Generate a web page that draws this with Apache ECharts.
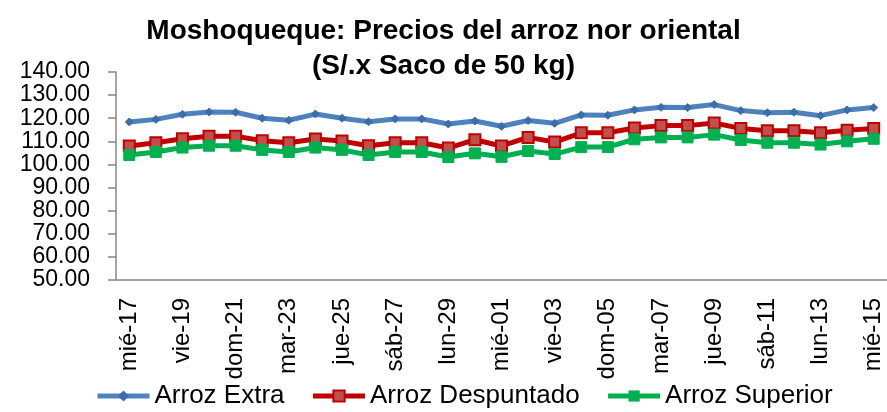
<!DOCTYPE html>
<html>
<head>
<meta charset="utf-8">
<script src="https://cdn.jsdelivr.net/npm/echarts@6/dist/echarts.min.js"></script>
<style>
html,body{margin:0;padding:0;background:#fff;}
#c{width:887px;height:412px;}
</style>
</head>
<body>
<div id="c"></div>
<script>
const categories = ['mié-17','jue-18','vie-19','sáb-20','dom-21','lun-22','mar-23','mié-24','jue-25','vie-26','sáb-27','dom-28','lun-29','mar-30','mié-01','jue-02','vie-03','sáb-04','dom-05','lun-06','mar-07','mié-08','jue-09','vie-10','sáb-11','dom-12','lun-13','mar-14','mié-15'];
const arrozExtra = [118.4,119.5,121.7,122.7,122.6,120.0,119.1,121.8,120.0,118.5,119.7,119.7,117.5,118.8,116.5,119.0,117.8,121.4,121.3,123.6,124.7,124.6,125.9,123.3,122.4,122.6,121.1,123.6,124.6];
const arrozDespuntado = [108.0,109.4,111.1,112.2,112.2,110.3,109.4,111.0,110.1,108.1,109.4,109.4,107.1,110.7,108.0,111.7,109.7,113.7,113.7,115.8,116.8,116.8,117.9,115.6,114.6,114.6,113.7,114.8,115.6];
const arrozSuperior = [104.1,105.4,107.3,108.1,108.1,106.3,105.4,107.3,106.3,104.1,105.4,105.4,103.2,104.8,103.3,105.8,104.5,107.5,107.5,110.9,111.7,111.7,112.9,110.6,109.4,109.4,108.6,110.0,111.1];
const seriesNames = ['Arroz Extra','Arroz Despuntado','Arroz Superior'];

const FONT = 'Liberation Sans';
const chart = echarts.init(document.getElementById('c'));
chart.setOption({
  animation: false,
  backgroundColor: '#fff',
  title: {
    text: 'Moshoqueque: Precios del arroz nor oriental\n(S/.x Saco de 50 kg)',
    left: 'center', top: 9,
    textStyle: {fontFamily: FONT, fontWeight: 'bold', fontSize: 28, lineHeight: 35, color: '#000'}
  },
  legend: {
    left: 95, top: 383, padding: 0,
    itemWidth: 52, itemHeight: 14, itemGap: 26,
    textStyle: {fontFamily: FONT, fontSize: 26, color: '#000'},
    data: [
      {name: seriesNames[0], lineStyle: {width: 5, color: '#4F81BD'}},
      {name: seriesNames[1], lineStyle: {width: 5, color: '#C00000'}},
      {name: seriesNames[2], lineStyle: {width: 5, color: '#00B050'}}
    ]
  },
  grid: {left: 116, right: 0, top: 72, bottom: 132, containLabel: false},
  xAxis: {
    type: 'category', data: categories, boundaryGap: true,
    axisLine: {lineStyle: {color: '#868686', width: 1.5}},
    axisTick: {interval: 1, length: 8, lineStyle: {color: '#868686', width: 1.5}},
    axisLabel: {interval: 1, rotate: 90, margin: 18, fontFamily: FONT, fontSize: 24, color: '#000'}
  },
  yAxis: {
    type: 'value', min: 50, max: 140, interval: 10,
    axisLine: {show: true, lineStyle: {color: '#868686', width: 1.5}},
    axisTick: {show: true, length: 8, lineStyle: {color: '#868686', width: 1.5}},
    splitLine: {show: false},
    axisLabel: {margin: 26, fontFamily: FONT, fontSize: 23, color: '#000', formatter: v => v.toFixed(2)}
  },
  series: [
    {name: seriesNames[0], type: 'line', data: arrozExtra, symbol: 'diamond', symbolSize: 8,
     lineStyle: {color: '#4F81BD', width: 5}, itemStyle: {color: '#3C6DAB', borderColor: '#3C6DAB'}, color: '#4F81BD'},
    {name: seriesNames[1], type: 'line', data: arrozDespuntado, symbol: 'rect', symbolSize: 11,
     lineStyle: {color: '#C00000', width: 5}, itemStyle: {color: '#C0504D', borderColor: '#C00000', borderWidth: 2}, color: '#C00000'},
    {name: seriesNames[2], type: 'line', data: arrozSuperior, symbol: 'rect', symbolSize: 11,
     lineStyle: {color: '#00B050', width: 5}, itemStyle: {color: '#00B050', borderColor: '#00B050'}, color: '#00B050'}
  ]
});
</script>
</body>
</html>
